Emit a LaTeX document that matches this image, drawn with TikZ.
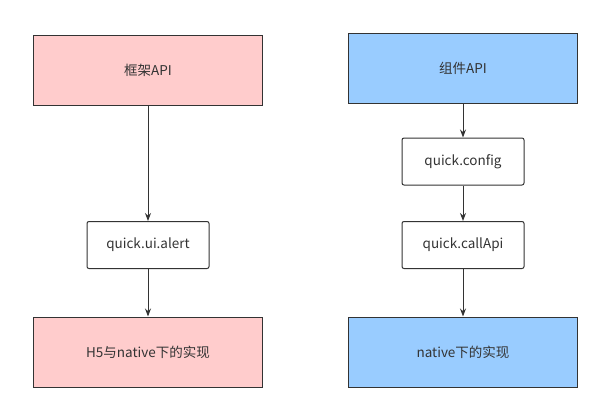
\documentclass[tikz,border=0pt]{standalone}
\usepackage{fontspec}
\setmainfont{Noto Sans CJK SC}
\usetikzlibrary{arrows.meta}
\definecolor{framepink}{HTML}{FFCCCC}
\definecolor{compblue}{HTML}{99CCFF}
\definecolor{linegray}{HTML}{333333}

\begin{document}
\begin{tikzpicture}[x=1pt, y=-1pt, >={Stealth[length=8pt,width=6pt]},
    bigbox/.style={draw=linegray, line width=1pt, minimum width=229pt, minimum height=70pt, text=linegray, font=\fontsize{13.5}{16}\selectfont},
    smallbox/.style={draw=linegray, line width=1pt, rounded corners=2pt, fill=white, minimum width=122pt, minimum height=47pt, text=linegray, font=\fontsize{13.5}{16}\selectfont}]
    \useasboundingbox (0,0) rectangle (600,410);

    \node[bigbox, fill=framepink] (fw) at (148, 70) {框架API};
    \node[smallbox] (alert) at (148, 245) {quick.ui.alert};
    \node[bigbox, fill=framepink] (h5) at (148, 352) {H5与native下的实现};

    \node[bigbox, fill=compblue] (comp) at (463, 68) {组件API};
    \node[smallbox] (config) at (463, 161.5) {quick.config};
    \node[smallbox] (callapi) at (463, 245) {quick.callApi};
    \node[bigbox, fill=compblue] (native) at (463, 352) {native下的实现};

    \draw[->, linegray, line width=1pt](fw)--(alert);
    \draw[->, linegray, line width=1pt](alert)--(h5);
    \draw[->, linegray, line width=1pt](comp)--(config);
    \draw[->, linegray, line width=1pt](config)--(callapi);
    \draw[->, linegray, line width=1pt](callapi)--(native);
\end{tikzpicture}
\end{document}
